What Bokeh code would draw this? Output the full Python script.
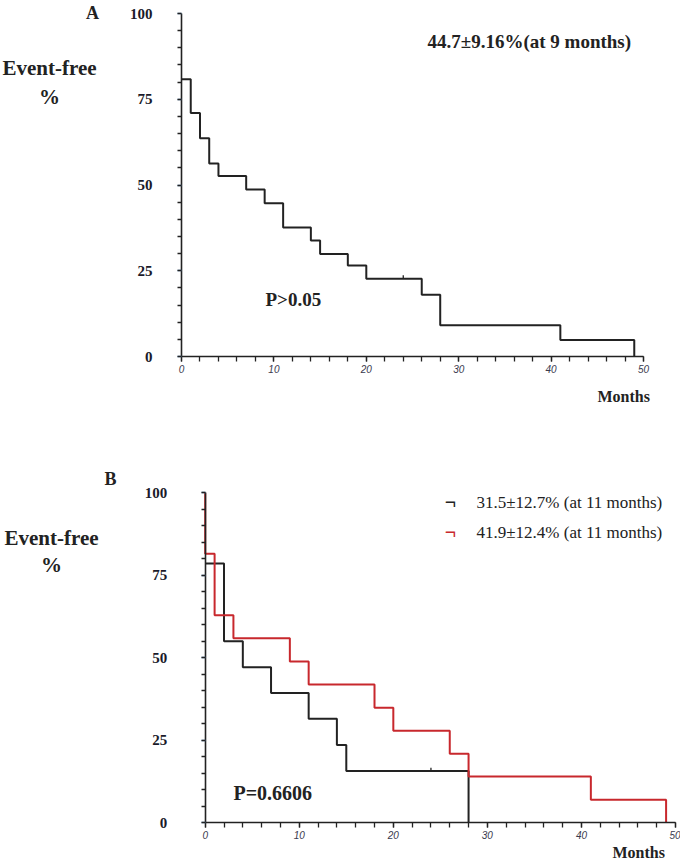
from bokeh.plotting import figure
from bokeh.models import Range1d, FixedTicker, LinearAxis
from bokeh.layouts import column
from bokeh.embed import file_html
from bokeh.resources import INLINE
from bokeh.core.properties import value

# ---------------- data ----------------
# Panel A: whole cohort
a_months = [0, 1, 2, 3, 4, 7, 9, 11, 14, 15, 18, 20, 26, 28, 41, 49]
a_surv = [80.8, 71.0, 63.6, 56.3, 52.6, 48.7, 44.7, 37.6, 33.8, 29.9, 26.5, 22.7, 18.0, 9.1, 4.8, 0]
a_censor_months = [24]
a_censor_surv = [22.7]

# Panel B: two groups
b1_months = [0, 2, 4, 7, 11, 14, 15, 28]
b1_surv = [78.6, 55.0, 47.1, 39.3, 31.5, 23.6, 15.7, 0]
b1_censor_months = [24]
b1_censor_surv = [15.7]

b2_months = [0, 0, 1, 3, 9, 11, 18, 20, 26, 28, 41, 49]
b2_surv = [100, 81.5, 62.9, 55.9, 48.9, 41.9, 34.9, 27.9, 20.9, 14.0, 7.0, 0]

y_ticks = [0, 25, 50, 75, 100]
y_minor = list(range(0, 101, 5))
x_ticks = [0, 10, 20, 30, 40, 50]
x_minor = list(range(0, 51, 2))

a_annot = "44.7±9.16%(at 9 months)"
a_p = "P>0.05"
b_leg = ["31.5±12.7% (at 11 months)", "41.9±12.4% (at 11 months)"]
b_p = "P=0.6606"

BLACK = "#222222"
RED = "#c8282d"
SERIF = value("Liberation Serif")
ORG = 1  # observed page origin of the canvas


def make_panel(W, H, top, x0px, x50px, y0px, y100px):
    kx = (x50px - x0px) / 50.0
    ky = (y0px - y100px) / 100.0
    xr = Range1d((ORG - x0px) / kx, (ORG + W - x0px) / kx)
    yr = Range1d((y0px - (top + H)) / ky, (y0px - top) / ky)
    p = figure(width=W, height=H, x_range=xr, y_range=yr,
               output_backend="svg", toolbar_location=None,
               x_axis_location=None, y_axis_location=None, min_border=0)
    p.outline_line_color = None
    p.grid.visible = False
    p.background_fill_color = "white"
    p.border_fill_color = "white"

    xa = LinearAxis(fixed_location=0, bounds=(0, 50),
                    ticker=FixedTicker(ticks=x_ticks, minor_ticks=x_minor))
    xa.axis_line_color = BLACK
    xa.axis_line_width = 1.6
    xa.major_tick_line_color = BLACK
    xa.minor_tick_line_color = BLACK
    xa.major_tick_line_width = 1.3
    xa.minor_tick_line_width = 1.3
    xa.major_tick_out = 5
    xa.major_tick_in = 0
    xa.minor_tick_out = 5
    xa.minor_tick_in = 0
    xa.major_label_standoff = 3
    xa.major_label_text_font = "Liberation Sans"
    xa.major_label_text_font_style = "italic"
    xa.major_label_text_font_size = "10px"
    xa.major_label_text_color = "#3a3a4e"
    p.add_layout(xa, "below")

    ya = LinearAxis(fixed_location=0, bounds=(0, 100),
                    ticker=FixedTicker(ticks=y_ticks, minor_ticks=y_minor))
    ya.axis_line_color = BLACK
    ya.axis_line_width = 1.6
    ya.major_tick_line_color = "#5a86b8"
    ya.minor_tick_line_color = BLACK
    ya.major_tick_line_width = 1.3
    ya.minor_tick_line_width = 1.3
    ya.major_tick_out = 4
    ya.major_tick_in = 0
    ya.minor_tick_out = 4
    ya.minor_tick_in = 0
    ya.major_label_text_font = "Liberation Sans Narrow"
    ya.major_label_text_font_style = "bold"
    ya.major_label_text_font_size = "15px"
    ya.major_label_text_color = "#1a1a2a"
    p.add_layout(ya, "left")

    def dx(px):
        return (px - x0px) / kx

    def dy(py):
        return (y0px - py) / ky

    return p, ya, dx, dy


def txt(p, x, y, s, size, style="bold", align="left", baseline="middle", color=BLACK):
    p.text(x=[x], y=[y], text=[s], text_font=SERIF, text_font_style=style,
           text_font_size=size, text_align=align, text_baseline=baseline,
           text_color=color)


# ---------------- Panel A ----------------
HA = 420
pa, yaA, dxA, dyA = make_panel(680, HA, ORG, 182, 644, 357, 14)
yaA.major_label_standoff = 25

pa.step(a_months, a_surv, mode="after", line_color=BLACK, line_width=2)
pa.segment(x0=a_censor_months, y0=a_censor_surv, x1=a_censor_months,
           y1=[v + 1.0 for v in a_censor_surv], line_color=BLACK, line_width=1.3)

txt(pa, dxA(93), dyA(13), "A", "18px", align="center")
txt(pa, dxA(50), dyA(68), "Event-free", "21px", align="center")
txt(pa, dxA(50), dyA(97), "%", "21px", align="center")
txt(pa, dxA(428), dyA(42), a_annot, "19px")
txt(pa, dxA(266), dyA(300), a_p, "19px")
txt(pa, dxA(598), dyA(397), "Months", "16px")

# ---------------- Panel B ----------------
pb, yaB, dxB, dyB = make_panel(680, 440, ORG + HA, 205.7, 676, 823.3, 493.3)
yaB.major_label_standoff = 34

pb.step(b1_months, b1_surv, mode="after", line_color=BLACK, line_width=2)
pb.segment(x0=b1_censor_months, y0=b1_censor_surv, x1=b1_censor_months,
           y1=[v + 1.0 for v in b1_censor_surv], line_color=BLACK, line_width=1.3)
pb.step(b2_months, b2_surv, mode="after", line_color=RED, line_width=2)

txt(pb, dxB(111), dyB(479), "B", "18px", align="center")
txt(pb, dxB(52), dyB(538), "Event-free", "21px", align="center")
txt(pb, dxB(52), dyB(565), "%", "21px", align="center")
txt(pb, dxB(451), dyB(502), "¬", "20px", align="center", color=BLACK)
txt(pb, dxB(451), dyB(532), "¬", "20px", align="center", color=RED)
txt(pb, dxB(477), dyB(503), b_leg[0], "17px", style="normal")
txt(pb, dxB(477), dyB(533), b_leg[1], "17px", style="normal")
txt(pb, dxB(234), dyB(793), b_p, "20px")
txt(pb, dxB(613), dyB(844), "Months", "16px", baseline="top")

layout = column(pa, pb, spacing=0)
open("out.html", "w").write(file_html(layout, INLINE))
